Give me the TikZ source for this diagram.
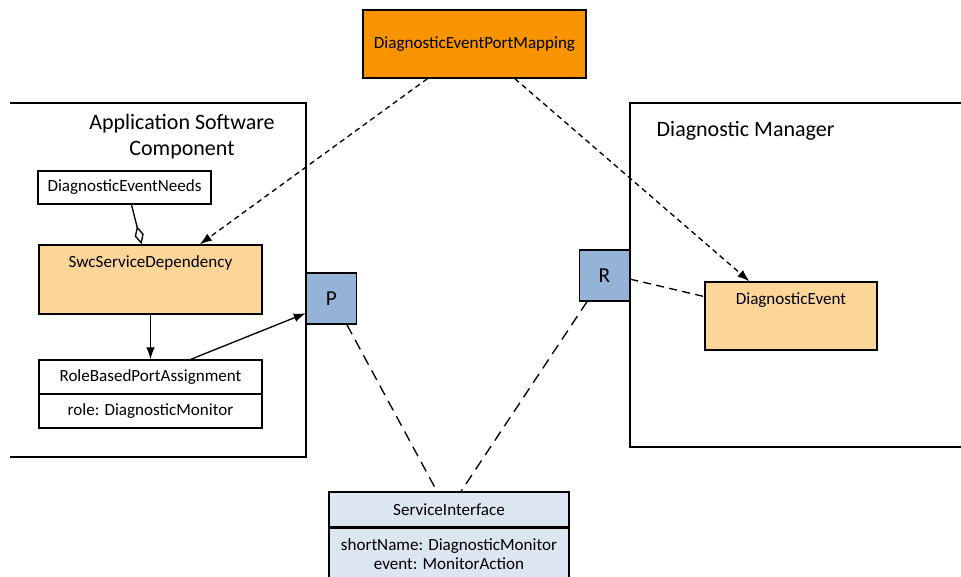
\documentclass[tikz,border=0pt]{standalone}
\usepackage{fontspec}
\setmainfont{Carlito}
\usetikzlibrary{arrows.meta,calc,shapes.multipart}

\definecolor{mapcol}{RGB}{247,148,0}
\definecolor{depcol}{RGB}{252,213,153}
\definecolor{portcol}{RGB}{149,179,215}
\definecolor{ifcol}{RGB}{220,230,241}

\begin{document}
\begin{tikzpicture}[
    x=0.75pt, y=-0.75pt,
    every node/.style={font=\fontsize{12.8}{14.5}\selectfont},
    box/.style={draw, rectangle, line width=1.1pt, align=center, inner sep=0pt},
    port/.style={box, fill=portcol, minimum width=50*0.75pt, minimum height=51*0.75pt, font=\fontsize{16}{18}\selectfont},
    frame/.style={line width=0.9pt},
    title/.style={font=\fontsize{16.5}{19.5}\selectfont, align=center},
    arrow/.style={-{Latex[length=9pt,width=6.5pt]}, line width=1pt},
    mapline/.style={arrow, dash pattern=on 4pt off 3pt},
    ifline/.style={line width=1pt, dash pattern=on 8pt off 5pt}
]
\useasboundingbox (0,0) rectangle (961,577);

% Rahmen der Komponenten
\draw[frame] (10,103) -- (306,103) -- (306,457) -- (10,457);
\draw[frame] (961,103) -- (630,103) -- (630,447) -- (961,447);
\node[title] (swctitle) at (182,137) {Application Software\\Component};
\node[title, anchor=west] (dmtitle) at (652,131) {Diagnostic Manager};

% Mapping oben
\node[box, fill=mapcol, minimum width=223*0.75pt, minimum height=68*0.75pt] (depm) at (474.5,44) {DiagnosticEventPortMapping};

% linke Seite
\node[box, fill=white, minimum width=173*0.75pt, minimum height=33*0.75pt] (den) at (124.5,187.5) {DiagnosticEventNeeds};
\node[box, fill=depcol, minimum width=223*0.75pt, minimum height=69*0.75pt,
      label={[anchor=north, yshift=-5pt]north:SwcServiceDependency}] (ssd) at (150.5,279.5) {};
\node[box, fill=white, minimum width=223*0.75pt, minimum height=34*0.75pt] (rbpa) at (150.5,377) {RoleBasedPortAssignment};
\node[box, fill=white, minimum width=223*0.75pt, minimum height=34*0.75pt] (role) at (150.5,411) {role: DiagnosticMonitor};
\node[port] (p) at (331.5,298.5) {P};

% rechte Seite
\node[port] (r) at (604.5,275.5) {R};
\node[box, fill=depcol, minimum width=172*0.75pt, minimum height=68*0.75pt,
      label={[anchor=north, yshift=-5pt]north:DiagnosticEvent}] (de) at (791,316) {};

% Interface unten
\node[box, fill=ifcol, minimum width=240*0.75pt, minimum height=35*0.75pt] (si) at (449,509.5) {ServiceInterface};
\node[box, fill=ifcol, minimum width=240*0.75pt, minimum height=62*0.75pt, anchor=north,
      label={[anchor=north, yshift=-4.5pt, align=center]north:shortName: DiagnosticMonitor\\event: MonitorAction}] (siattr) at (si.south) {};

% Verbindungen
\draw[mapline] ($(depm.south west)!0.29!(depm.south east)$) -- ($(ssd.north west)!0.72!(ssd.north east)$);
\draw[mapline] ($(depm.south west)!0.68!(depm.south east)$) -- ($(de.north west)!0.26!(de.north east)$);
\draw[line width=1pt, -{Diamond[open,length=14pt,width=7pt]}] ($(den.south west)!0.54!(den.south east)$) -- ($(ssd.north west)!0.46!(ssd.north east)$);
\draw[arrow] (ssd.south) -- (rbpa.north);
\draw[arrow] ($(rbpa.north west)!0.68!(rbpa.north east)$) -- ($(p.north west)!0.78!(p.south west)$);
\draw[ifline] ($(p.south west)!0.8!(p.south east)$) -- ($(si.north west)!0.45!(si.north east)$);
\draw[ifline] ($(r.south west)!0.16!(r.south east)$) -- ($(si.north west)!0.55!(si.north east)$);
\draw[line width=1pt, dash pattern=on 6pt off 4pt] ($(r.north east)!0.57!(r.south east)$) -- ($(de.north west)!0.22!(de.south west)$);

\end{tikzpicture}
\end{document}
